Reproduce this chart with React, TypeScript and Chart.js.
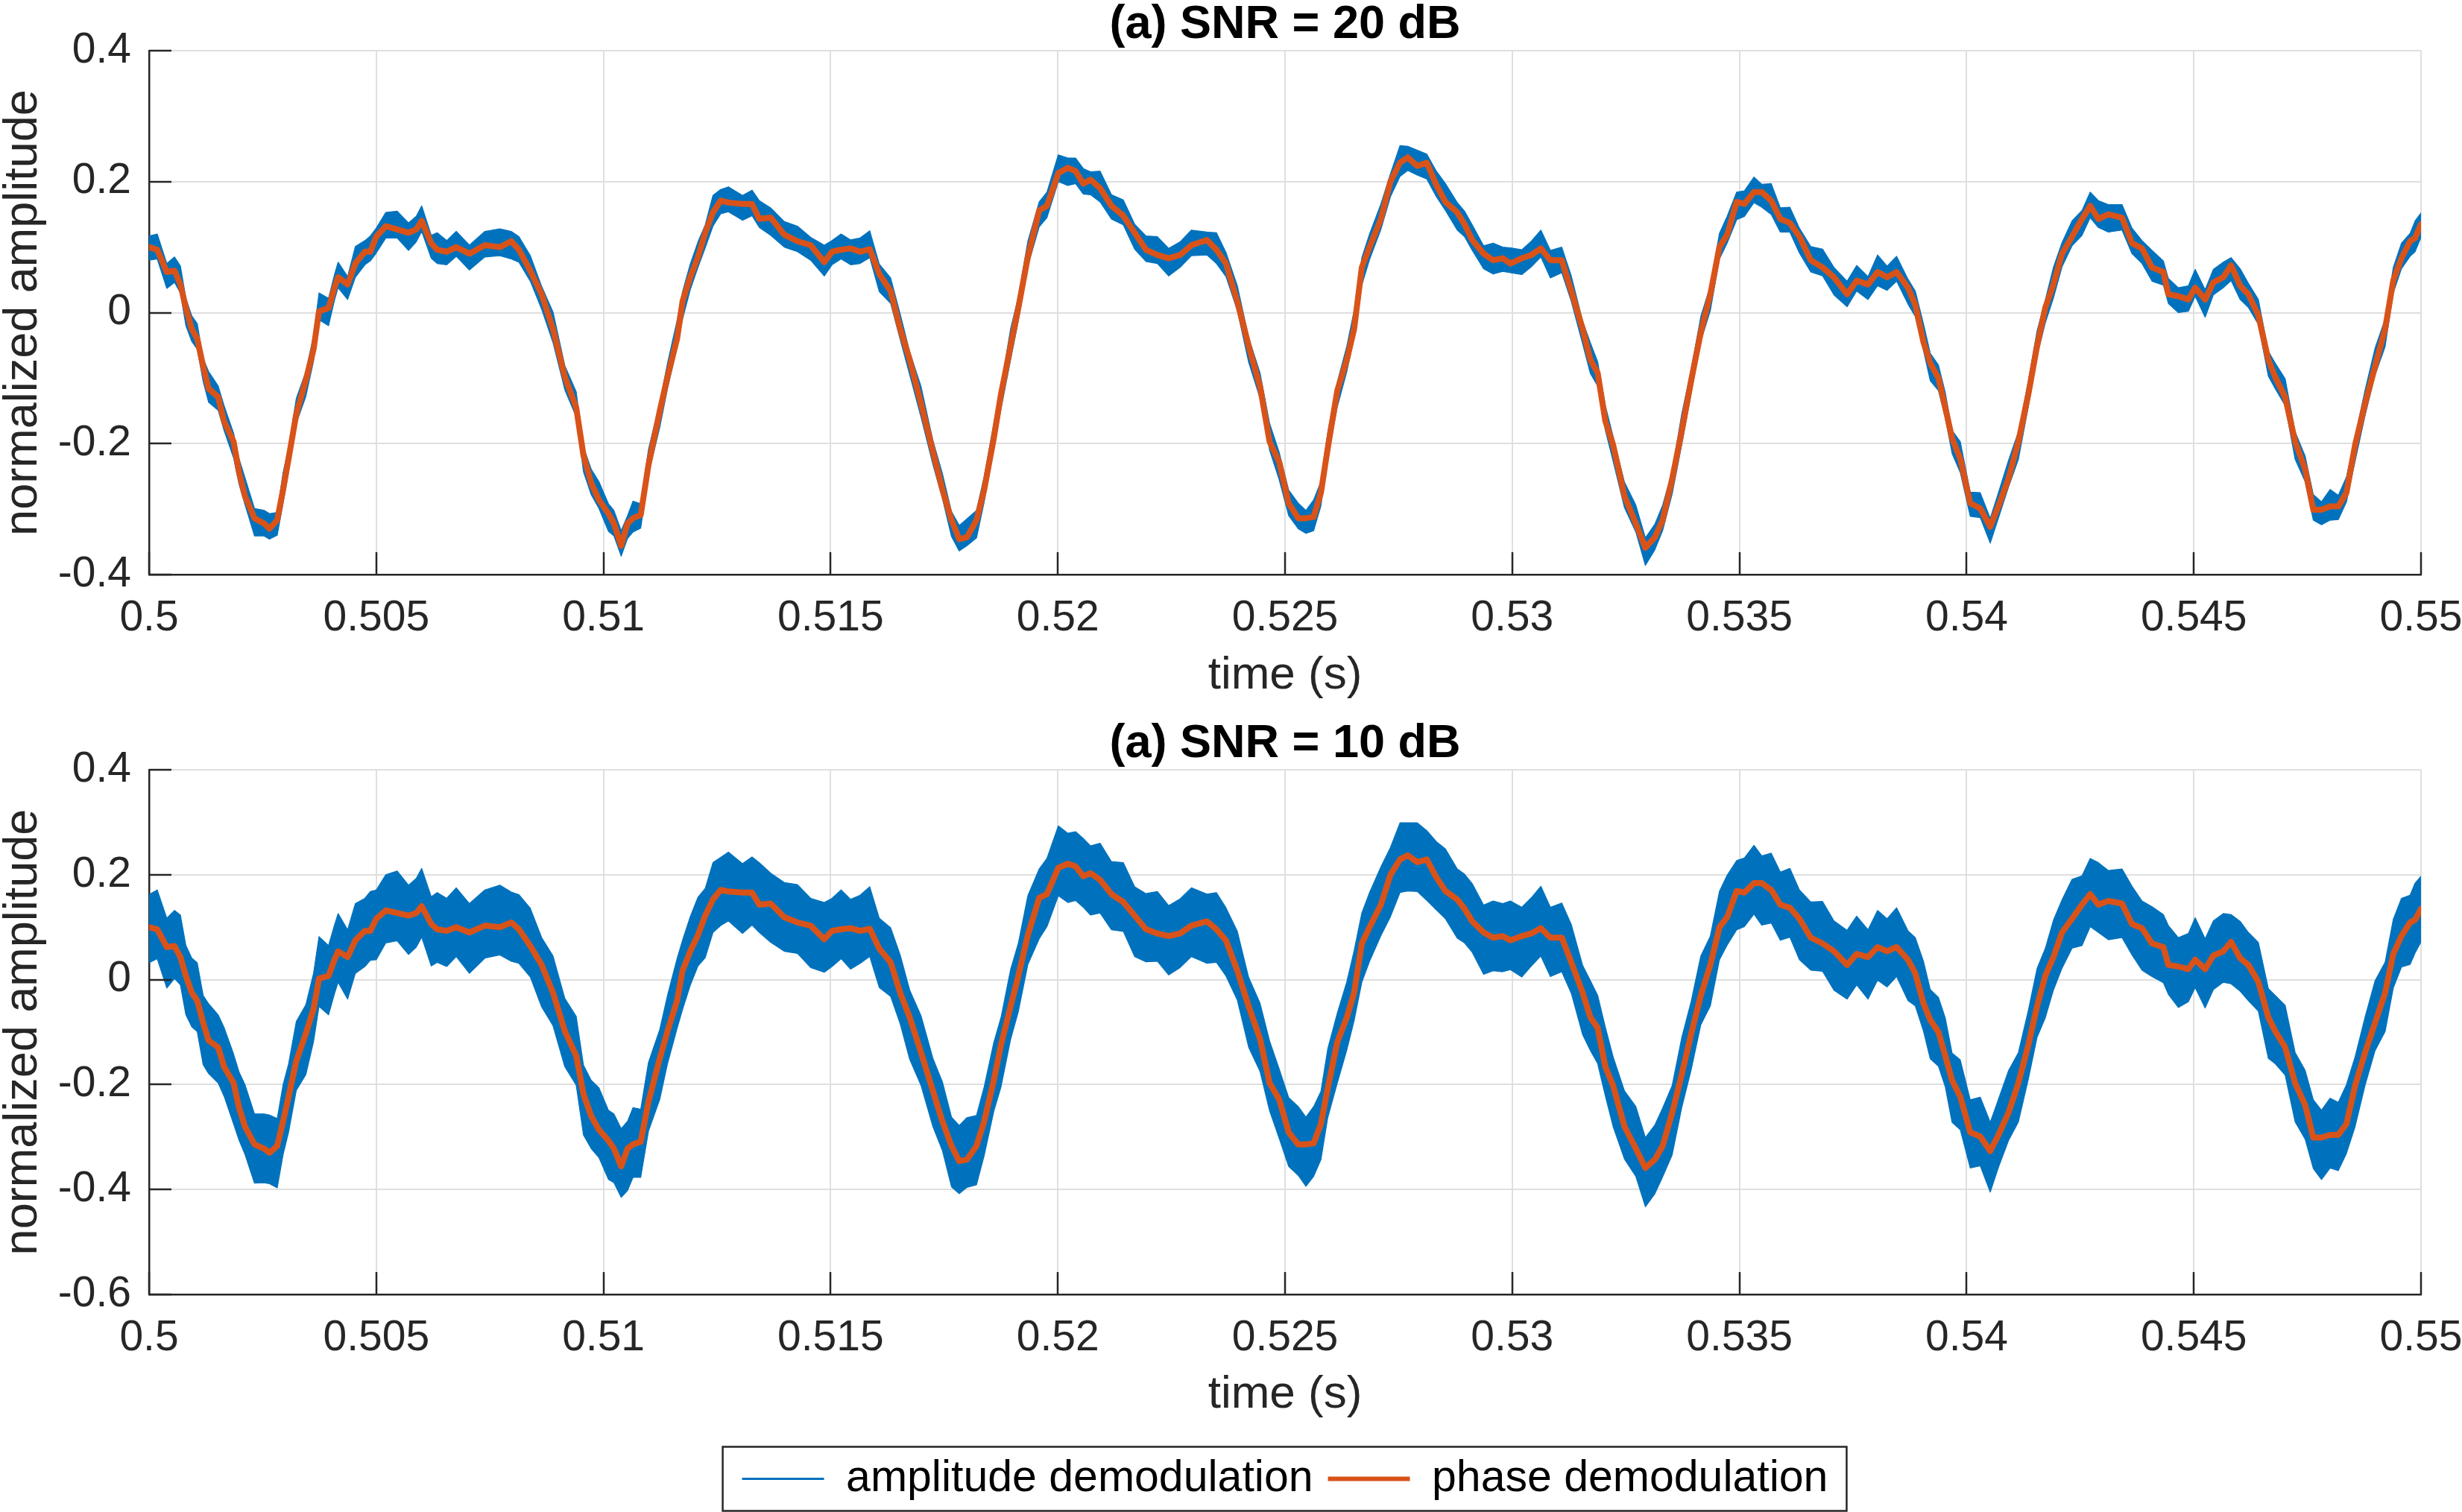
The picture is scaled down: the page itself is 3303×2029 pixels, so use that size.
import React, { useEffect, useRef } from "react";
import { Chart, registerables } from "chart.js";

Chart.register(...registerables);

// ---------------- data ----------------
const timeS = [
  0.50000,0.50018,0.50039,0.50056,0.50069,0.50081,0.50094,0.50106,0.50119,0.50131,
  0.50152,0.50165,0.50186,0.50198,0.50211,0.50232,0.50253,0.50265,0.50282,0.50295,
  0.50307,0.50324,0.50345,0.50362,0.50374,0.50395,0.50408,0.50416,0.50437,0.50454,
  0.50475,0.50487,0.50500,0.50521,0.50546,0.50571,0.50588,0.50600,0.50621,0.50634,
  0.50655,0.50676,0.50705,0.50739,0.50772,0.50797,0.50814,0.50839,0.50864,0.50889,
  0.50915,0.50940,0.50956,0.50973,0.50990,0.51011,0.51023,0.51039,0.51053,0.51065,
  0.51082,0.51099,0.51124,0.51141,0.51162,0.51174,0.51191,0.51208,0.51224,0.51241,
  0.51258,0.51275,0.51306,0.51327,0.51343,0.51368,0.51398,0.51427,0.51456,0.51486,
  0.51503,0.51523,0.51544,0.51565,0.51586,0.51607,0.51632,0.51653,0.51674,0.51699,
  0.51725,0.51746,0.51766,0.51783,0.51800,0.51821,0.51838,0.51859,0.51875,0.51896,
  0.51913,0.51934,0.51959,0.51976,0.52001,0.52022,0.52039,0.52056,0.52072,0.52093,
  0.52118,0.52144,0.52169,0.52194,0.52219,0.52244,0.52269,0.52294,0.52328,0.52349,
  0.52370,0.52395,0.52420,0.52445,0.52466,0.52487,0.52508,0.52529,0.52546,0.52563,
  0.52579,0.52594,0.52615,0.52636,0.52652,0.52669,0.52686,0.52711,0.52732,0.52753,
  0.52770,0.52791,0.52812,0.52833,0.52853,0.52879,0.52895,0.52912,0.52937,0.52958,
  0.52979,0.52996,0.53021,0.53042,0.53063,0.53084,0.53109,0.53130,0.53155,0.53172,
  0.53188,0.53205,0.53222,0.53247,0.53272,0.53293,0.53314,0.53331,0.53352,0.53373,
  0.53394,0.53415,0.53436,0.53456,0.53473,0.53494,0.53511,0.53532,0.53549,0.53570,
  0.53590,0.53611,0.53632,0.53657,0.53683,0.53708,0.53737,0.53758,0.53783,0.53804,
  0.53825,0.53846,0.53871,0.53887,0.53905,0.53920,0.53938,0.53953,0.53968,0.53986,
  0.54008,0.54030,0.54052,0.54070,0.54092,0.54114,0.54136,0.54155,0.54173,0.54191,
  0.54210,0.54232,0.54254,0.54272,0.54290,0.54312,0.54342,0.54364,0.54386,0.54408,
  0.54433,0.54444,0.54466,0.54488,0.54503,0.54525,0.54543,0.54565,0.54582,0.54602,
  0.54620,0.54642,0.54664,0.54679,0.54701,0.54723,0.54745,0.54763,0.54781,0.54800,
  0.54818,0.54836,0.54855,0.54877,0.54899,0.54921,0.54939,0.54957,0.54976,0.54987,
  0.55000,
];

// phase demodulation (orange, same in both panels)
const phaseDemod = [
  0.100,0.096,0.062,0.064,0.043,0.007,-0.025,-0.040,-0.082,-0.116,
  -0.129,-0.166,-0.197,-0.244,-0.280,-0.314,-0.322,-0.330,-0.317,-0.270,
  -0.223,-0.155,-0.103,-0.056,0.002,0.007,0.038,0.054,0.043,0.075,
  0.093,0.093,0.116,0.132,0.127,0.122,0.127,0.140,0.106,0.096,
  0.093,0.100,0.090,0.103,0.100,0.109,0.096,0.064,0.028,-0.025,
  -0.098,-0.145,-0.218,-0.260,-0.286,-0.307,-0.322,-0.356,-0.322,-0.314,
  -0.309,-0.233,-0.150,-0.098,-0.040,0.017,0.054,0.085,0.122,0.153,
  0.171,0.168,0.166,0.166,0.143,0.145,0.119,0.109,0.103,0.077,
  0.093,0.096,0.098,0.093,0.097,0.059,0.033,-0.025,-0.072,-0.139,
  -0.212,-0.270,-0.317,-0.346,-0.343,-0.317,-0.270,-0.192,-0.124,-0.051,
  0.007,0.085,0.156,0.163,0.213,0.221,0.216,0.197,0.203,0.190,
  0.163,0.148,0.122,0.096,0.088,0.083,0.088,0.103,0.111,0.096,
  0.075,0.017,-0.051,-0.113,-0.197,-0.228,-0.291,-0.314,-0.314,-0.312,
  -0.275,-0.207,-0.119,-0.072,-0.025,0.069,0.100,0.143,0.200,0.229,
  0.237,0.224,0.229,0.195,0.169,0.153,0.135,0.111,0.090,0.080,
  0.083,0.075,0.083,0.088,0.098,0.080,0.080,0.033,-0.025,-0.072,
  -0.092,-0.166,-0.202,-0.280,-0.322,-0.359,-0.343,-0.317,-0.254,-0.181,
  -0.103,-0.030,0.028,0.100,0.119,0.169,0.166,0.184,0.184,0.171,
  0.143,0.137,0.116,0.080,0.069,0.054,0.028,0.049,0.043,0.062,
  0.054,0.062,0.038,0.012,-0.045,-0.077,-0.100,-0.145,-0.192,-0.223,
  -0.291,-0.299,-0.327,-0.296,-0.254,-0.197,-0.124,-0.051,0.007,0.043,
  0.090,0.116,0.143,0.163,0.143,0.150,0.145,0.106,0.098,0.069,
  0.062,0.028,0.025,0.020,0.038,0.020,0.046,0.054,0.072,0.041,
  0.028,-0.004,-0.072,-0.098,-0.129,-0.197,-0.239,-0.301,-0.301,-0.296,
  -0.296,-0.275,-0.202,-0.139,-0.082,-0.025,0.049,0.083,0.109,0.114,
  0.135,
];

// amplitude demodulation, SNR = 20 dB: upper / lower edge of the noisy trace
const ampTopHigh = [
  0.117,0.120,0.075,0.085,0.071,0.022,-0.005,-0.017,-0.070,-0.090,
  -0.112,-0.142,-0.184,-0.223,-0.252,-0.299,-0.302,-0.307,-0.305,-0.244,
  -0.206,-0.131,-0.090,-0.035,0.030,0.022,0.058,0.077,0.055,0.101,
  0.110,0.117,0.129,0.153,0.155,0.137,0.147,0.163,0.118,0.122,
  0.110,0.124,0.103,0.124,0.128,0.124,0.116,0.087,0.040,0.001,
  -0.081,-0.121,-0.205,-0.239,-0.258,-0.292,-0.302,-0.333,-0.310,-0.288,
  -0.292,-0.209,-0.137,-0.077,-0.012,0.032,0.074,0.108,0.134,0.179,
  0.188,0.192,0.179,0.187,0.171,0.160,0.139,0.132,0.115,0.103,
  0.110,0.120,0.111,0.114,0.125,0.074,0.053,-0.002,-0.060,-0.113,
  -0.195,-0.246,-0.304,-0.325,-0.315,-0.302,-0.250,-0.169,-0.112,-0.025,
  0.024,0.109,0.169,0.184,0.241,0.236,0.236,0.220,0.215,0.216,
  0.180,0.172,0.135,0.117,0.116,0.098,0.108,0.126,0.123,0.122,
  0.092,0.041,-0.038,-0.092,-0.169,-0.213,-0.271,-0.291,-0.302,-0.286,
  -0.258,-0.183,-0.106,-0.051,0.003,0.084,0.120,0.166,0.212,0.255,
  0.254,0.248,0.242,0.216,0.197,0.168,0.155,0.134,0.102,0.106,
  0.100,0.099,0.096,0.109,0.126,0.095,0.100,0.056,-0.013,-0.046,
  -0.075,-0.142,-0.189,-0.259,-0.294,-0.344,-0.323,-0.294,-0.242,-0.155,
  -0.086,-0.006,0.041,0.121,0.147,0.184,0.186,0.207,0.196,0.197,
  0.160,0.161,0.129,0.101,0.097,0.069,0.048,0.072,0.055,0.088,
  0.071,0.086,0.051,0.033,-0.017,-0.062,-0.080,-0.122,-0.180,-0.197,
  -0.274,-0.275,-0.314,-0.275,-0.226,-0.182,-0.104,-0.028,0.019,0.069,
  0.107,0.140,0.156,0.184,0.171,0.165,0.165,0.129,0.110,0.095,
  0.079,0.052,0.038,0.041,0.066,0.035,0.066,0.077,0.084,0.067,
  0.045,0.020,-0.059,-0.077,-0.101,-0.182,-0.219,-0.278,-0.289,-0.270,
  -0.279,-0.251,-0.189,-0.118,-0.054,-0.010,0.069,0.106,0.121,0.140,
  0.152,
];
const ampTopLow = [
  0.080,0.082,0.037,0.046,0.030,-0.020,-0.044,-0.056,-0.105,-0.137,
  -0.149,-0.180,-0.222,-0.262,-0.293,-0.341,-0.341,-0.346,-0.340,-0.291,
  -0.243,-0.169,-0.128,-0.074,-0.011,-0.020,0.019,0.038,0.020,0.054,
  0.073,0.079,0.091,0.114,0.114,0.095,0.108,0.124,0.083,0.075,
  0.073,0.086,0.065,0.085,0.087,0.082,0.077,0.048,0.005,-0.046,
  -0.118,-0.159,-0.243,-0.278,-0.299,-0.334,-0.341,-0.372,-0.345,-0.335,
  -0.329,-0.247,-0.175,-0.116,-0.053,-0.010,0.035,0.069,0.099,0.132,
  0.151,0.154,0.141,0.148,0.130,0.118,0.100,0.093,0.080,0.056,
  0.073,0.082,0.073,0.075,0.084,0.032,0.014,-0.041,-0.095,-0.160,
  -0.232,-0.284,-0.342,-0.364,-0.356,-0.344,-0.289,-0.208,-0.147,-0.072,
  -0.013,0.071,0.131,0.145,0.200,0.194,0.197,0.181,0.180,0.169,
  0.143,0.134,0.097,0.078,0.075,0.056,0.069,0.087,0.088,0.075,
  0.055,0.003,-0.076,-0.131,-0.210,-0.255,-0.310,-0.330,-0.337,-0.333,
  -0.295,-0.221,-0.144,-0.090,-0.038,0.042,0.081,0.127,0.177,0.208,
  0.217,0.210,0.204,0.177,0.156,0.126,0.116,0.095,0.067,0.059,
  0.063,0.061,0.058,0.070,0.085,0.053,0.061,0.017,-0.048,-0.093,
  -0.112,-0.180,-0.227,-0.298,-0.335,-0.386,-0.362,-0.333,-0.277,-0.202,
  -0.123,-0.044,0.003,0.082,0.106,0.142,0.147,0.168,0.161,0.150,
  0.123,0.123,0.091,0.062,0.056,0.027,0.009,0.033,0.020,0.041,
  0.034,0.048,0.013,-0.006,-0.058,-0.104,-0.119,-0.161,-0.215,-0.244,
  -0.311,-0.313,-0.352,-0.314,-0.267,-0.224,-0.143,-0.067,-0.016,0.022,
  0.070,0.102,0.118,0.145,0.130,0.123,0.126,0.090,0.075,0.048,
  0.042,0.014,0.000,0.002,0.025,-0.007,0.027,0.038,0.049,0.020,
  0.008,-0.018,-0.097,-0.116,-0.142,-0.224,-0.258,-0.317,-0.324,-0.317,
  -0.316,-0.289,-0.227,-0.157,-0.095,-0.052,0.030,0.067,0.086,0.093,
  0.115,
];

// amplitude demodulation, SNR = 10 dB: upper / lower edge of the noisy trace
const ampBottomHigh = [
  0.162,0.171,0.117,0.132,0.123,0.065,0.041,0.032,-0.030,-0.046,
  -0.067,-0.091,-0.142,-0.176,-0.200,-0.256,-0.256,-0.258,-0.265,-0.200,
  -0.161,-0.080,-0.048,0.012,0.082,0.065,0.104,0.126,0.095,0.145,
  0.155,0.168,0.171,0.200,0.207,0.180,0.193,0.212,0.158,0.166,
  0.155,0.175,0.145,0.171,0.180,0.167,0.162,0.136,0.080,0.045,
  -0.036,-0.070,-0.163,-0.192,-0.206,-0.249,-0.256,-0.284,-0.270,-0.244,
  -0.247,-0.158,-0.095,-0.030,0.040,0.075,0.120,0.157,0.174,0.223,
  0.233,0.243,0.221,0.234,0.223,0.203,0.185,0.181,0.155,0.147,
  0.155,0.171,0.153,0.161,0.177,0.117,0.099,0.047,-0.020,-0.069,
  -0.150,-0.195,-0.262,-0.278,-0.263,-0.259,-0.204,-0.120,-0.072,0.019,
  0.069,0.160,0.211,0.231,0.293,0.279,0.282,0.269,0.255,0.260,
  0.225,0.223,0.177,0.164,0.168,0.141,0.154,0.175,0.163,0.166,
  0.137,0.092,0.004,-0.045,-0.117,-0.170,-0.225,-0.242,-0.262,-0.242,
  -0.213,-0.132,-0.064,-0.004,0.055,0.127,0.166,0.215,0.252,0.299,
  0.299,0.299,0.284,0.263,0.249,0.211,0.201,0.183,0.142,0.150,
  0.145,0.150,0.138,0.156,0.178,0.138,0.146,0.105,0.027,-0.002,
  -0.030,-0.091,-0.147,-0.212,-0.242,-0.301,-0.277,-0.245,-0.202,-0.111,
  -0.041,0.045,0.083,0.168,0.199,0.227,0.232,0.256,0.236,0.241,
  0.205,0.212,0.171,0.148,0.149,0.112,0.094,0.121,0.095,0.132,
  0.116,0.137,0.093,0.080,0.035,-0.019,-0.034,-0.073,-0.140,-0.153,
  -0.229,-0.224,-0.272,-0.228,-0.174,-0.139,-0.058,0.021,0.059,0.113,
  0.152,0.191,0.198,0.231,0.223,0.208,0.211,0.178,0.150,0.139,
  0.124,0.103,0.080,0.088,0.118,0.078,0.112,0.126,0.124,0.111,
  0.090,0.071,-0.017,-0.030,-0.049,-0.139,-0.173,-0.229,-0.249,-0.226,
  -0.234,-0.200,-0.147,-0.071,-0.002,0.033,0.115,0.155,0.161,0.184,
  0.197,
];
const ampBottomLow = [
  0.032,0.040,-0.016,0.002,-0.010,-0.067,-0.090,-0.099,-0.162,-0.179,
  -0.197,-0.222,-0.275,-0.306,-0.333,-0.388,-0.387,-0.389,-0.397,-0.333,
  -0.291,-0.211,-0.181,-0.118,-0.051,-0.067,-0.027,-0.005,-0.037,0.012,
  0.025,0.037,0.038,0.070,0.074,0.048,0.062,0.081,0.026,0.033,
  0.025,0.044,0.012,0.041,0.047,0.035,0.031,0.005,-0.052,-0.088,
  -0.166,-0.201,-0.296,-0.322,-0.339,-0.381,-0.387,-0.415,-0.402,-0.377,
  -0.377,-0.289,-0.228,-0.160,-0.093,-0.057,-0.011,0.026,0.042,0.090,
  0.103,0.112,0.088,0.104,0.090,0.071,0.054,0.050,0.023,0.014,
  0.025,0.040,0.020,0.031,0.044,-0.015,-0.032,-0.084,-0.152,-0.202,
  -0.280,-0.326,-0.395,-0.408,-0.396,-0.391,-0.335,-0.251,-0.204,-0.114,
  -0.061,0.029,0.078,0.101,0.160,0.147,0.151,0.138,0.123,0.127,
  0.095,0.092,0.044,0.034,0.035,0.009,0.023,0.044,0.031,0.033,
  0.007,-0.039,-0.129,-0.175,-0.250,-0.302,-0.356,-0.373,-0.394,-0.375,
  -0.343,-0.263,-0.197,-0.134,-0.078,-0.005,0.035,0.084,0.120,0.166,
  0.169,0.168,0.151,0.133,0.116,0.079,0.070,0.052,0.010,0.017,
  0.015,0.019,0.005,0.026,0.045,0.006,0.015,-0.026,-0.105,-0.135,
  -0.160,-0.222,-0.280,-0.342,-0.375,-0.433,-0.408,-0.376,-0.334,-0.244,
  -0.171,-0.086,-0.050,0.038,0.066,0.095,0.101,0.125,0.104,0.108,
  0.075,0.081,0.038,0.018,0.016,-0.020,-0.037,-0.010,-0.037,-0.001,
  -0.014,0.006,-0.040,-0.050,-0.098,-0.151,-0.165,-0.204,-0.272,-0.286,
  -0.359,-0.355,-0.405,-0.358,-0.307,-0.271,-0.189,-0.110,-0.073,-0.020,
  0.022,0.060,0.065,0.101,0.090,0.076,0.080,0.047,0.018,0.006,
  -0.006,-0.028,-0.053,-0.042,-0.015,-0.054,-0.019,-0.005,-0.008,-0.022,
  -0.040,-0.060,-0.150,-0.160,-0.182,-0.271,-0.304,-0.360,-0.381,-0.359,
  -0.364,-0.331,-0.280,-0.201,-0.135,-0.099,-0.016,0.024,0.029,0.051,
  0.072,
];

const xTickValues = [0.5, 0.505, 0.51, 0.515, 0.52, 0.525, 0.53, 0.535, 0.54, 0.545, 0.55];
const xTickLabels = ["0.5", "0.505", "0.51", "0.515", "0.52", "0.525", "0.53", "0.535", "0.54", "0.545", "0.55"];
const yTicksTop = [-0.4, -0.2, 0, 0.2, 0.4];
const yTickLabelsTop = ["-0.4", "-0.2", "0", "0.2", "0.4"];
const yTicksBottom = [-0.6, -0.4, -0.2, 0, 0.2, 0.4];
const yTickLabelsBottom = ["-0.6", "-0.4", "-0.2", "0", "0.2", "0.4"];
const panelTitles = ["(a) SNR = 20 dB", "(a) SNR = 10 dB"];
const seriesNames = ["amplitude demodulation", "phase demodulation"];
const xAxisTitle = "time (s)";
const yAxisTitle = "normalized amplitude";

// ---------------- styling ----------------
const FONT = "'Liberation Sans', Arial, Helvetica, sans-serif";
const BLUE = "#0072BD";
const ORANGE = "#D95319";
const AXIS = "#262626";
const GRID = "#dfdfdf";

const inwardTicks = {
  id: "inwardTicks",
  afterDraw(chart: any) {
    const { ctx, chartArea: a, scales } = chart;
    const xs = scales.x;
    const ys = scales.y;
    ctx.save();
    ctx.strokeStyle = AXIS;
    ctx.lineWidth = 2.5;
    ctx.beginPath();
    xs.ticks.forEach((t: any) => {
      const px = Math.round(xs.getPixelForValue(t.value));
      ctx.moveTo(px, a.bottom);
      ctx.lineTo(px, a.bottom - 30);
    });
    ys.ticks.forEach((t: any) => {
      const py = Math.round(ys.getPixelForValue(t.value));
      ctx.moveTo(a.left, py);
      ctx.lineTo(a.left + 30, py);
    });
    ctx.stroke();
    ctx.restore();
  },
};

const legendFrame = {
  id: "legendFrame",
  afterDraw(chart: any) {
    const lg = chart.legend;
    if (!lg || !lg.options.display) return;
    const hb = lg.legendHitBoxes;
    if (!hb || !hb.length) return;
    const first = hb[0];
    const last = hb[hb.length - 1];
    const cy = first.top + first.height / 2;
    const l = first.left - 26;
    const r = last.left + last.width + 25;
    const { ctx } = chart;
    ctx.save();
    ctx.strokeStyle = AXIS;
    ctx.lineWidth = 2.5;
    ctx.strokeRect(l, cy - 43, r - l, 86);
    ctx.restore();
  },
};

type PanelSpec = {
  title: string;
  hi: number[];
  lo: number[];
  yMin: number;
  yMax: number;
  yTicks: number[];
  yTickLabels: string[];
  xAxisHeight: number;
  xTitlePadBottom: number;
  showLegend: boolean;
  padBottom: number;
};

function makeConfig(p: PanelSpec): any {
  const pts = (vals: number[]) => timeS.map((t, i) => ({ x: t, y: vals[i] }));
  return {
    type: "line",
    data: {
      datasets: [
        {
          label: seriesNames[0],
          data: pts(p.hi),
          borderColor: BLUE,
          borderWidth: 1.2,
          pointRadius: 0,
          fill: false,
          order: 1,
        },
        {
          label: seriesNames[0] + " (lower)",
          data: pts(p.lo),
          borderColor: BLUE,
          backgroundColor: BLUE,
          borderWidth: 1.2,
          pointRadius: 0,
          fill: "-1",
          order: 1,
        },
        {
          label: seriesNames[1],
          data: pts(phaseDemod),
          borderColor: ORANGE,
          borderWidth: 8,
          pointRadius: 0,
          fill: false,
          order: 0,
        },
      ],
    },
    options: {
      animation: false,
      responsive: false,
      devicePixelRatio: 1,
      events: [],
      layout: { padding: { left: 0, right: 55, top: 0, bottom: p.padBottom } },
      elements: { line: { tension: 0, borderJoinStyle: "round", borderCapStyle: "round" } },
      scales: {
        x: {
          type: "linear",
          min: 0.5,
          max: 0.55,
          afterBuildTicks: (s: any) => {
            s.ticks = xTickValues.map((v) => ({ value: v }));
          },
          afterFit: (s: any) => {
            s.height = p.xAxisHeight;
            s.paddingLeft = 0;
            s.paddingRight = 0;
          },
          ticks: {
            autoSkip: false,
            maxRotation: 0,
            minRotation: 0,
            padding: 25,
            color: AXIS,
            font: { family: FONT, size: 57, lineHeight: 1.2 },
            callback: (v: any) => {
              const i = xTickValues.findIndex((t) => Math.abs(t - v) < 1e-9);
              return i >= 0 ? xTickLabels[i] : "";
            },
          },
          grid: { color: GRID, lineWidth: 2, drawTicks: false },
          border: { display: true, color: AXIS, width: 2.5 },
          title: {
            display: true,
            text: xAxisTitle,
            color: AXIS,
            font: { family: FONT, size: 62, lineHeight: 1 },
            padding: { top: 0, bottom: p.xTitlePadBottom },
          },
        },
        y: {
          type: "linear",
          min: p.yMin,
          max: p.yMax,
          afterBuildTicks: (s: any) => {
            s.ticks = p.yTicks.map((v) => ({ value: v }));
          },
          afterFit: (s: any) => {
            s.width = 200;
            s.paddingTop = 0;
            s.paddingBottom = 0;
          },
          ticks: {
            autoSkip: false,
            padding: 24,
            color: AXIS,
            font: { family: FONT, size: 57, lineHeight: 1.2 },
            callback: (v: any) => {
              const i = p.yTicks.findIndex((t) => Math.abs(t - v) < 1e-9);
              return i >= 0 ? p.yTickLabels[i] : "";
            },
          },
          grid: { color: GRID, lineWidth: 2, drawTicks: false },
          border: { display: true, color: AXIS, width: 2.5 },
          title: {
            display: true,
            text: yAxisTitle,
            color: AXIS,
            font: { family: FONT, size: 63, lineHeight: 0.8 },
            padding: { top: 6, bottom: 0 },
          },
        },
      },
      plugins: {
        title: {
          display: true,
          text: p.title,
          fullSize: false,
          color: "#000000",
          font: { family: FONT, size: 63, weight: "bold", lineHeight: 0.9 },
          padding: { top: 5, bottom: 6.3 },
        },
        tooltip: { enabled: false },
        legend: {
          display: p.showLegend,
          position: "bottom",
          fullSize: false,
          labels: {
            usePointStyle: true,
            pointStyleWidth: 110,
            padding: 20,
            color: "#000000",
            font: { family: FONT, size: 59 },
            generateLabels: () => [
              {
                text: seriesNames[0],
                fillStyle: BLUE,
                strokeStyle: BLUE,
                lineWidth: 3,
                pointStyle: "line",
                hidden: false,
                datasetIndex: 0,
                fontColor: "#000000",
              },
              {
                text: seriesNames[1],
                fillStyle: ORANGE,
                strokeStyle: ORANGE,
                lineWidth: 6,
                pointStyle: "line",
                hidden: false,
                datasetIndex: 2,
                fontColor: "#000000",
              },
            ],
          },
        },
      },
    },
    plugins: [inwardTicks, legendFrame],
  };
}

function Panel(props: { spec: PanelSpec; top: number; height: number }) {
  const ref = useRef<HTMLCanvasElement | null>(null);
  useEffect(() => {
    if (!ref.current) return;
    const chart = new Chart(ref.current, makeConfig(props.spec));
    return () => chart.destroy();
  }, []);
  return (
    <canvas
      ref={ref}
      width={3303}
      height={props.height}
      style={{ position: "absolute", left: 0, top: props.top, width: 3303, height: props.height, display: "block" }}
    />
  );
}

export default function App() {
  useEffect(() => {
    document.body.style.margin = "0";
    document.body.style.overflow = "hidden";
    document.body.style.background = "#ffffff";
  }, []);
  const topSpec: PanelSpec = {
    title: panelTitles[0],
    hi: ampTopHigh,
    lo: ampTopLow,
    yMin: -0.4,
    yMax: 0.4,
    yTicks: yTicksTop,
    yTickLabels: yTickLabelsTop,
    xAxisHeight: 189,
    xTitlePadBottom: 22,
    showLegend: false,
    padBottom: 0,
  };
  const bottomSpec: PanelSpec = {
    title: panelTitles[1],
    hi: ampBottomHigh,
    lo: ampBottomLow,
    yMin: -0.6,
    yMax: 0.4,
    yTicks: yTicksBottom,
    yTickLabels: yTickLabelsBottom,
    xAxisHeight: 198,
    xTitlePadBottom: 32,
    showLegend: true,
    padBottom: 5,
  };
  return (
    <div style={{ position: "absolute", left: 0, top: 0, width: 3303, height: 2029, background: "#ffffff", overflow: "hidden" }}>
      <Panel spec={topSpec} top={0} height={960} />
      <Panel spec={bottomSpec} top={965} height={1064} />
    </div>
  );
}
